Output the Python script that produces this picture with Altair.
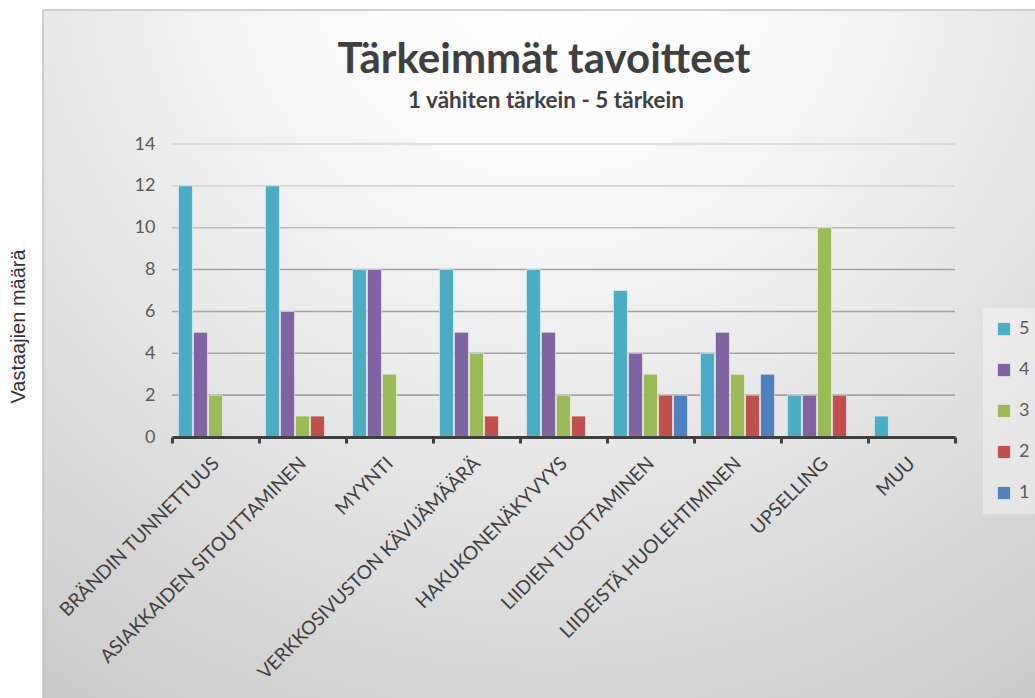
import altair as alt
import pandas as pd

categories = ["BRÄNDIN TUNNETTUUS", "ASIAKKAIDEN SITOUTTAMINEN", "MYYNTI",
              "VERKKOSIVUSTON KÄVIJÄMÄÄRÄ", "HAKUKONENÄKYVYYS", "LIIDIEN TUOTTAMINEN",
              "LIIDEISTÄ HUOLEHTIMINEN", "UPSELLING", "MUU"]
ratings = ["5", "4", "3", "2", "1"]
r5 = [12, 12, 8, 8, 8, 7, 4, 2, 1]
r4 = [5, 6, 8, 5, 5, 4, 5, 2, 0]
r3 = [2, 1, 3, 4, 2, 3, 3, 10, 0]
r2 = [0, 1, 0, 1, 1, 2, 2, 2, 0]
r1 = [0, 0, 0, 0, 0, 2, 3, 0, 0]
colors = ["#4bacc6", "#8064a2", "#9bbb59", "#c0504d", "#4f81bd"]
y_ticks = [0, 2, 4, 6, 8, 10, 12, 14]
grid_vals = [2, 4, 6, 8, 10, 12, 14]
title_text = "Tärkeimmät tavoitteet"
subtitle_text = "1 vähiten tärkein - 5 tärkein"

rows = []
for rating, series in zip(ratings, [r5, r4, r3, r2, r1]):
    for cat, v in zip(categories, series):
        if v > 0:
            rows.append({"Tavoite": cat, "Arvio": rating, "Määrä": v})
df = pd.DataFrame(rows)

W, H = 783, 293
LEFT, TOP = 172, 144

ysc = alt.Scale(domain=[0, 14], nice=False)
xsc = alt.Scale(domain=categories, paddingInner=0, paddingOuter=0)

y_axis = alt.Axis(title="Vastaajien määrä", values=y_ticks, grid=False,
                  domain=False, ticks=False, labelFont="Lato", labelFontSize=18,
                  labelColor="#595959", labelPadding=17,
                  titleFont="Liberation Sans", titleFontSize=20,
                  titleFontWeight="normal", titleColor="#333333",
                  titleX=18 - LEFT, titleY=326 - TOP, titleAngle=270,
                  titleAlign="center", titleBaseline="middle", zindex=2)

bg = alt.Chart(alt.Data(values=[{"a": 1}])).mark_rect(
    fill=alt.RadialGradient(
        gradient="radial",
        stops=[alt.GradientStop(color="#ffffff", offset=0),
               alt.GradientStop(color="#fafafa", offset=0.25),
               alt.GradientStop(color="#e5e5e5", offset=0.6),
               alt.GradientStop(color="#cacaca", offset=1)],
        x1=0.5, y1=0.08, x2=0.5, y2=0.08, r1=0, r2=0.9),
    stroke="#c4c4c4", strokeWidth=1.5,
).encode(
    x=alt.value(43 - LEFT), x2=alt.value(1045 - LEFT),
    y=alt.value(10 - TOP), y2=alt.value(710 - TOP),
)

title_df = pd.DataFrame({"t": [title_text]})
sub_df = pd.DataFrame({"t": [subtitle_text]})
title = alt.Chart(title_df).mark_text(
    font="Lato", fontSize=42, fontWeight="bold", color="#404040",
    align="center", baseline="alphabetic",
).encode(text="t:N", x=alt.value(544 - LEFT), y=alt.value(73 - TOP))
subtitle = alt.Chart(sub_df).mark_text(
    font="Lato", fontSize=22.5, fontWeight="bold", color="#404040",
    align="center", baseline="alphabetic",
).encode(text="t:N", x=alt.value(546 - LEFT), y=alt.value(108 - TOP))

grid = alt.Chart(pd.DataFrame({"Määrä": grid_vals})).mark_rule(strokeWidth=1.6).encode(
    y=alt.Y("Määrä:Q", scale=ysc, axis=y_axis),
    x=alt.value(0), x2=alt.value(W),
    color={"condition": [{"test": "datum['Määrä'] >= 12", "value": "#d6d6d6"},
                         {"test": "datum['Määrä'] >= 10", "value": "#bdbdbd"}],
           "value": "#a3a3a3"},
)

bars = alt.Chart(df).mark_bar(stroke="#f4f4f4", strokeWidth=0.6).encode(
    x=alt.X("Tavoite:N", scale=xsc, sort=categories,
            axis=alt.Axis(title=None, labelAngle=315, labelAlign="right",
                          labelBaseline="middle", labelFont="Lato", labelFontSize=19,
                          labelColor="#404040", labelPadding=17, labelLimit=400,
                          domainColor="#3f3f3f", domainWidth=3, tickColor="#3f3f3f",
                          tickWidth=3, tickSize=6, tickBand="extent", grid=False,
                          zindex=2)),
    xOffset=alt.XOffset("Arvio:N", sort=ratings,
                        scale=alt.Scale(domain=ratings, paddingInner=0.07, paddingOuter=0.43)),
    y=alt.Y("Määrä:Q", scale=ysc, axis=y_axis),
    color=alt.Color("Arvio:N", sort=ratings,
                    scale=alt.Scale(domain=ratings, range=colors),
                    legend=alt.Legend(title=None, orient="none",
                                      legendX=983 - LEFT, legendY=308 - TOP,
                                      symbolType="square", symbolSize=150,
                                      symbolStrokeWidth=0, labelFont="Lato",
                                      labelFontSize=18, labelColor="#595959",
                                      rowPadding=23, padding=12, labelOffset=6,
                                      fillColor="rgba(255,255,255,0.35)",
                                      zindex=2)),
)

chart = alt.layer(bg, grid, bars, title, subtitle).properties(
    width=W, height=H,
    autosize=alt.AutoSizeParams(type="none"),
    padding={"left": LEFT, "top": TOP, "right": 1035 - LEFT - W, "bottom": 698 - TOP - H},
    background="white",
).configure_view(stroke=None)

chart.save("out.html", embed_options={"renderer": "svg", "actions": False})
